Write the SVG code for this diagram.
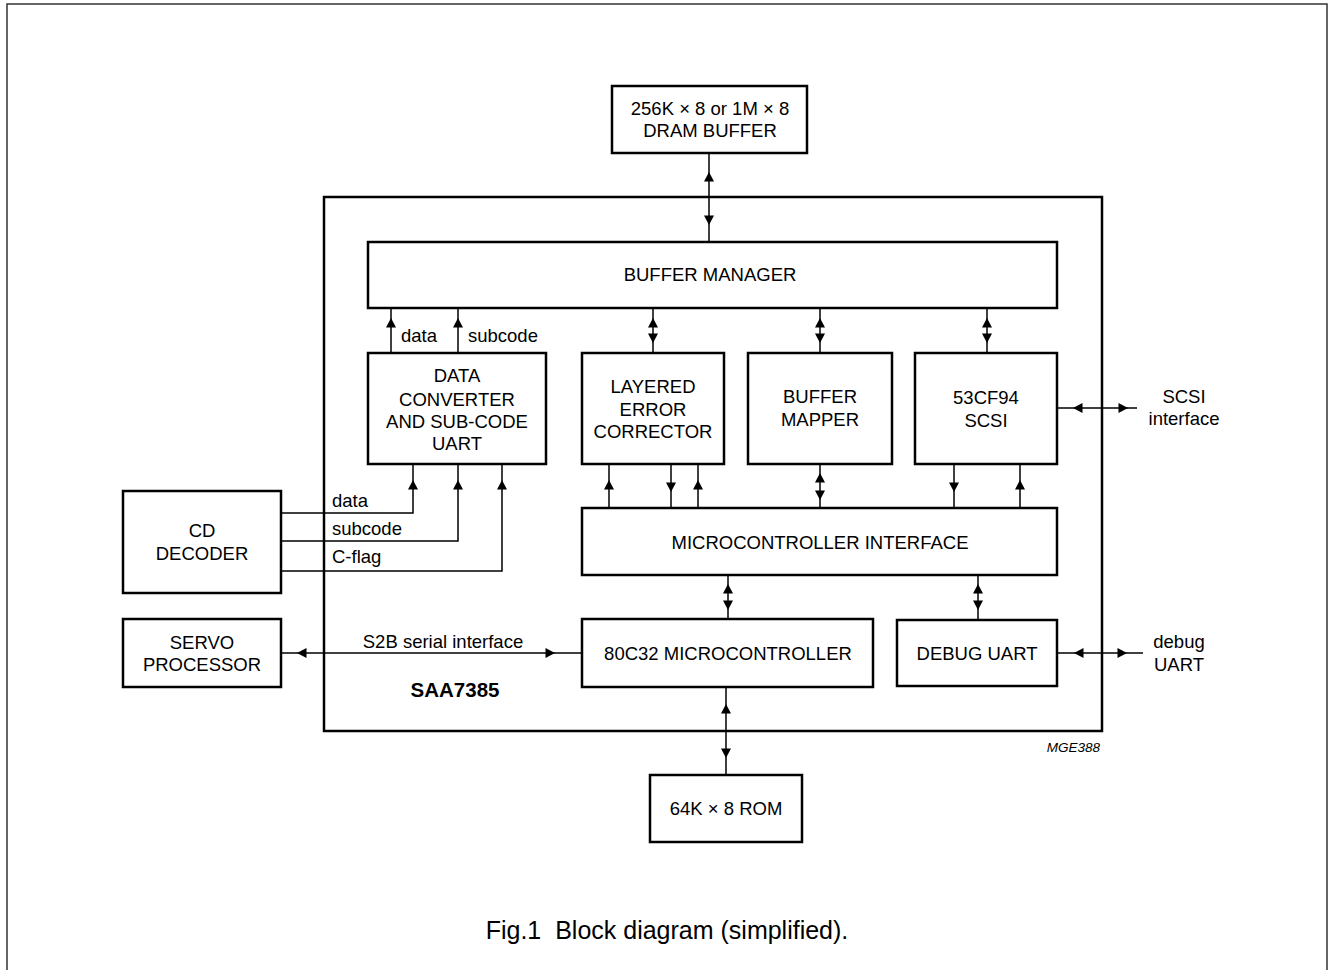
<svg xmlns="http://www.w3.org/2000/svg" xmlns:xlink="http://www.w3.org/1999/xlink" width="1329" height="970" viewBox="0 0 1329 970">
<style>
.box{fill:#fff;stroke:#000;stroke-width:2.5}
.ln{fill:none;stroke:#000;stroke-width:1.5}
.t{font-family:"Liberation Sans",Arial,sans-serif;font-size:18.5px;fill:#000;text-anchor:middle}
.l{font-family:"Liberation Sans",Arial,sans-serif;font-size:18.5px;fill:#000}
</style>
<defs>
<path id="up" d="M0,0 L-5,9.5 L5,9.5 Z" fill="#000"/>
<path id="dn" d="M0,0 L-5,-9.5 L5,-9.5 Z" fill="#000"/>
<path id="lf" d="M0,0 L9.5,-5 L9.5,5 Z" fill="#000"/>
<path id="rt" d="M0,0 L-9.5,-5 L-9.5,5 Z" fill="#000"/>
</defs>
<rect width="1329" height="970" fill="#fff"/>
<path d="M7,972 V4 H1327 V972" fill="none" stroke="#333" stroke-width="1.5"/>

<g id="chip">
<rect class="box" x="324" y="197" width="778" height="534"/>
<text x="455" y="697" font-family="Liberation Sans,Arial,sans-serif" font-size="20.5" font-weight="bold" text-anchor="middle">SAA7385</text>
</g>

<g id="connectors">
<line class="ln" x1="709" y1="153" x2="709" y2="242"/>
<use xlink:href="#up" x="709" y="172"/><use xlink:href="#dn" x="709" y="225"/>
<line class="ln" x1="391" y1="308" x2="391" y2="353"/>
<use xlink:href="#up" x="391" y="318"/>
<line class="ln" x1="458" y1="308" x2="458" y2="353"/>
<use xlink:href="#up" x="458" y="318"/>
<line class="ln" x1="653" y1="308" x2="653" y2="353"/>
<use xlink:href="#up" x="653" y="318"/><use xlink:href="#dn" x="653" y="343"/>
<line class="ln" x1="820" y1="308" x2="820" y2="353"/>
<use xlink:href="#up" x="820" y="318"/><use xlink:href="#dn" x="820" y="343"/>
<line class="ln" x1="987" y1="308" x2="987" y2="353"/>
<use xlink:href="#up" x="987" y="318"/><use xlink:href="#dn" x="987" y="343"/>
<path class="ln" d="M281,513 H413 V464"/>
<use xlink:href="#up" x="413" y="480"/>
<path class="ln" d="M281,541 H458 V464"/>
<use xlink:href="#up" x="458" y="480"/>
<path class="ln" d="M281,571 H502 V464"/>
<use xlink:href="#up" x="502" y="480"/>
<line class="ln" x1="609" y1="464" x2="609" y2="508"/><use xlink:href="#up" x="609" y="480"/>
<line class="ln" x1="671" y1="464" x2="671" y2="508"/><use xlink:href="#dn" x="671" y="492"/>
<line class="ln" x1="698" y1="464" x2="698" y2="508"/><use xlink:href="#up" x="698" y="480"/>
<line class="ln" x1="820" y1="464" x2="820" y2="508"/>
<use xlink:href="#up" x="820" y="473"/><use xlink:href="#dn" x="820" y="500"/>
<line class="ln" x1="954" y1="464" x2="954" y2="508"/><use xlink:href="#dn" x="954" y="492"/>
<line class="ln" x1="1020" y1="464" x2="1020" y2="508"/><use xlink:href="#up" x="1020" y="480"/>
<line class="ln" x1="728" y1="575" x2="728" y2="619"/>
<use xlink:href="#up" x="728" y="584"/><use xlink:href="#dn" x="728" y="610"/>
<line class="ln" x1="978" y1="575" x2="978" y2="620"/>
<use xlink:href="#up" x="978" y="584"/><use xlink:href="#dn" x="978" y="610"/>
<line class="ln" x1="1057" y1="408" x2="1137" y2="408"/>
<use xlink:href="#lf" x="1073" y="408"/><use xlink:href="#rt" x="1128" y="408"/>
<line class="ln" x1="1057" y1="653" x2="1143" y2="653"/>
<use xlink:href="#lf" x="1074" y="653"/><use xlink:href="#rt" x="1127" y="653"/>
<line class="ln" x1="281" y1="653" x2="582" y2="653"/>
<use xlink:href="#lf" x="297" y="653"/><use xlink:href="#rt" x="555" y="653"/>
<line class="ln" x1="726" y1="687" x2="726" y2="775"/>
<use xlink:href="#up" x="726" y="704"/><use xlink:href="#dn" x="726" y="758"/>
<text class="l" x="401" y="342">data</text>
<text class="l" x="468" y="342">subcode</text>
<text class="l" x="332" y="507">data</text>
<text class="l" x="332" y="535">subcode</text>
<text class="l" x="332" y="563">C-flag</text>
<text class="t" x="443" y="648">S2B serial interface</text>
<text class="t" x="1184" y="403">SCSI</text>
<text class="t" x="1184" y="425">interface</text>
<text class="t" x="1179" y="648">debug</text>
<text class="t" x="1179" y="671">UART</text>
</g>

<g id="dram">
<rect class="box" x="612" y="86" width="195" height="67"/>
<text class="t" x="710" y="115">256K × 8 or 1M × 8</text>
<text class="t" x="710" y="137">DRAM BUFFER</text>
</g>
<g id="buffer-manager">
<rect class="box" x="368" y="242" width="689" height="66"/>
<text class="t" x="710" y="281">BUFFER MANAGER</text>
</g>
<g id="data-converter">
<rect class="box" x="368" y="353" width="178" height="111"/>
<text class="t" x="457" y="382">DATA</text>
<text class="t" x="457" y="406">CONVERTER</text>
<text class="t" x="457" y="428">AND SUB-CODE</text>
<text class="t" x="457" y="450">UART</text>
</g>
<g id="lec">
<rect class="box" x="582" y="353" width="142" height="111"/>
<text class="t" x="653" y="393">LAYERED</text>
<text class="t" x="653" y="416">ERROR</text>
<text class="t" x="653" y="438">CORRECTOR</text>
</g>
<g id="buffer-mapper">
<rect class="box" x="748" y="353" width="144" height="111"/>
<text class="t" x="820" y="403">BUFFER</text>
<text class="t" x="820" y="426">MAPPER</text>
</g>
<g id="scsi">
<rect class="box" x="915" y="353" width="142" height="111"/>
<text class="t" x="986" y="404">53CF94</text>
<text class="t" x="986" y="427">SCSI</text>
</g>
<g id="mci">
<rect class="box" x="582" y="508" width="475" height="67"/>
<text class="t" x="820" y="549">MICROCONTROLLER INTERFACE</text>
</g>
<g id="cd-decoder">
<rect class="box" x="123" y="491" width="158" height="102"/>
<text class="t" x="202" y="537">CD</text>
<text class="t" x="202" y="560">DECODER</text>
</g>
<g id="servo">
<rect class="box" x="123" y="619" width="158" height="68"/>
<text class="t" x="202" y="649">SERVO</text>
<text class="t" x="202" y="671">PROCESSOR</text>
</g>
<g id="micro">
<rect class="box" x="582" y="619" width="291" height="68"/>
<text class="t" x="728" y="660">80C32 MICROCONTROLLER</text>
</g>
<g id="debug-uart">
<rect class="box" x="897" y="620" width="160" height="66"/>
<text class="t" x="977" y="660">DEBUG UART</text>
</g>
<g id="rom">
<rect class="box" x="650" y="775" width="152" height="67"/>
<text class="t" x="726" y="815">64K × 8 ROM</text>
</g>
<text x="1100" y="752" font-family="Liberation Sans,Arial,sans-serif" font-size="13.5" font-style="italic" text-anchor="end">MGE388</text>
<text x="667" y="939" font-family="Liberation Sans,Arial,sans-serif" font-size="25" text-anchor="middle" xml:space="preserve">Fig.1  Block diagram (simplified).</text>
</svg>
